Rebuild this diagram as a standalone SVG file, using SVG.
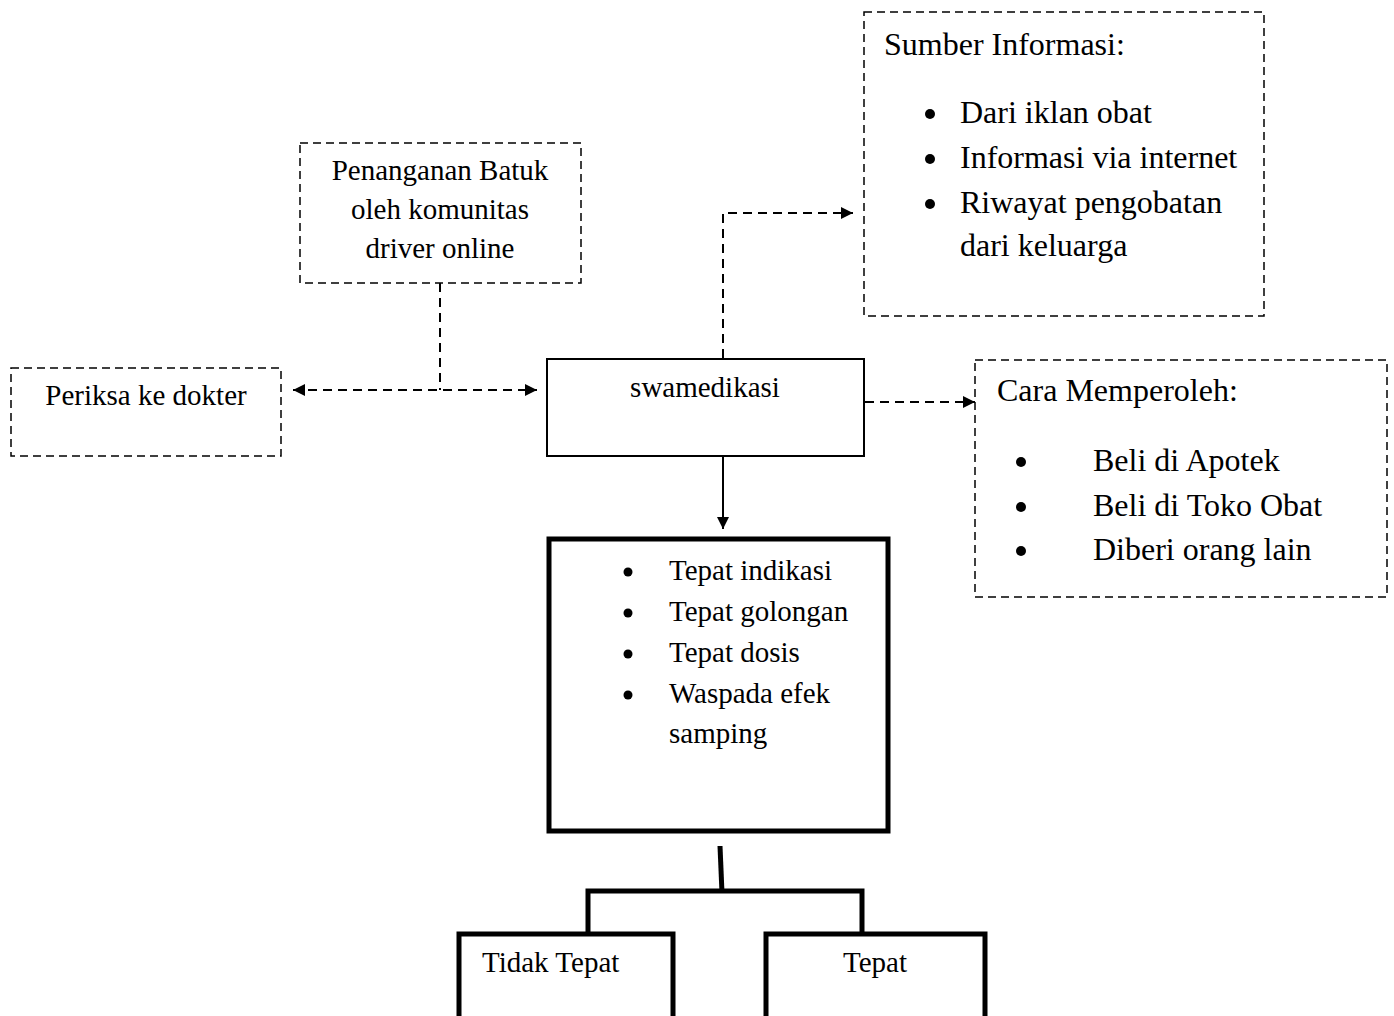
<svg xmlns="http://www.w3.org/2000/svg" width="1394" height="1016" viewBox="0 0 1394 1016">
<style>
text{font-family:"Liberation Serif","Times New Roman",serif;fill:#000}
.s{font-size:29px}
.l{font-size:32px}
.dash{fill:none;stroke:#000;stroke-width:1.5;stroke-dasharray:8 5}
.solid{fill:#fff;stroke:#000;stroke-width:2}
.thick{fill:#fff;stroke:#000;stroke-width:5}
.con{fill:none;stroke:#000;stroke-width:2;stroke-dasharray:9 6}
.bar{fill:none;stroke:#000;stroke-width:5}
</style>
<defs>
<marker id="ah" viewBox="0 0 12 12" refX="12" refY="6" markerWidth="12" markerHeight="12" markerUnits="userSpaceOnUse" orient="auto-start-reverse">
<path d="M0,0 L12,6 L0,12 Z" fill="#000"/>
</marker>
</defs>
<rect width="1394" height="1016" fill="#fff"/>
<g id="connectors">
<path class="con" d="M440,283 V390"/>
<path class="con" d="M293,390 H537" marker-start="url(#ah)" marker-end="url(#ah)"/>
<path class="con" d="M723,358 V213 H853" marker-end="url(#ah)"/>
<path class="con" d="M865,402 H975" marker-end="url(#ah)"/>
<path fill="none" stroke="#000" stroke-width="2" d="M723,456 V529" marker-end="url(#ah)"/>
<path class="bar" d="M720,846 L722,893"/>
<path class="bar" d="M588,932 V891 H862 V932"/>
</g>
<g id="penanganan">
<rect class="dash" x="300" y="143" width="281" height="140"/>
<text class="s" x="440" y="180" text-anchor="middle">Penanganan Batuk</text>
<text class="s" x="440" y="219" text-anchor="middle">oleh komunitas</text>
<text class="s" x="440" y="258" text-anchor="middle">driver online</text>
</g>
<g id="periksa">
<rect class="dash" x="11" y="368" width="270" height="88"/>
<text class="s" x="146" y="405" text-anchor="middle">Periksa ke dokter</text>
</g>
<g id="swamedikasi">
<rect class="solid" x="547" y="359" width="317" height="97"/>
<text class="s" x="705" y="397" text-anchor="middle">swamedikasi</text>
</g>
<g id="sumber">
<rect class="dash" x="864" y="12" width="400" height="304"/>
<text class="l" x="884" y="55">Sumber Informasi:</text>
<circle cx="930" cy="114" r="5"/><text class="l" x="960" y="123">Dari iklan obat</text>
<circle cx="930" cy="159" r="5"/><text class="l" x="960" y="168">Informasi via internet</text>
<circle cx="930" cy="204" r="5"/><text class="l" x="960" y="213">Riwayat pengobatan</text>
<text class="l" x="960" y="256">dari keluarga</text>
</g>
<g id="cara">
<rect class="dash" x="975" y="360" width="412" height="237"/>
<text class="l" x="997" y="401">Cara Memperoleh:</text>
<circle cx="1021" cy="462" r="5"/><text class="l" x="1093" y="471">Beli di Apotek</text>
<circle cx="1021" cy="507" r="5"/><text class="l" x="1093" y="516">Beli di Toko Obat</text>
<circle cx="1021" cy="551" r="5"/><text class="l" x="1093" y="560">Diberi orang lain</text>
</g>
<g id="kriteria">
<rect class="thick" x="549" y="539" width="339" height="292"/>
<circle cx="628" cy="572" r="4.5"/><text class="s" x="669" y="580">Tepat indikasi</text>
<circle cx="628" cy="613" r="4.5"/><text class="s" x="669" y="621">Tepat golongan</text>
<circle cx="628" cy="654" r="4.5"/><text class="s" x="669" y="662">Tepat dosis</text>
<circle cx="628" cy="695" r="4.5"/><text class="s" x="669" y="703">Waspada efek</text>
<text class="s" x="669" y="743">samping</text>
</g>
<g id="tidak-tepat">
<rect class="thick" x="459" y="934" width="214" height="90"/>
<text class="s" x="482" y="972">Tidak Tepat</text>
</g>
<g id="tepat">
<rect class="thick" x="766" y="934" width="219" height="90"/>
<text class="s" x="875" y="972" text-anchor="middle">Tepat</text>
</g>
</svg>
